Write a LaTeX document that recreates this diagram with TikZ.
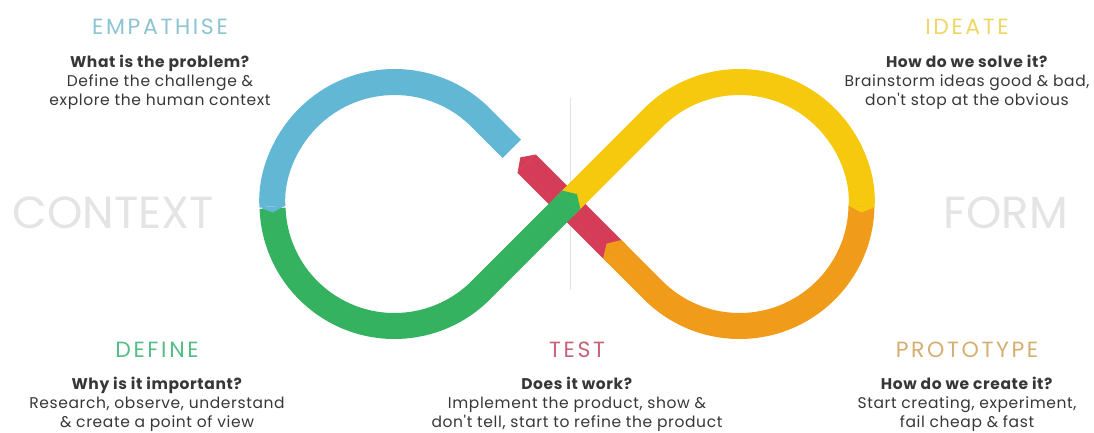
\documentclass[tikz,border=0pt]{standalone}
\usepackage{fontspec}
\setmainfont{Poppins}
\newfontfamily\stagefont{Poppins}[LetterSpace=12]
\newfontfamily\notefont{Poppins}[LetterSpace=4]
\usetikzlibrary{arrows.meta,positioning,calc}
\definecolor{bandblue}{RGB}{98,184,212}
\definecolor{bandgreen}{RGB}{52,178,96}
\definecolor{bandyellow}{RGB}{246,201,14}
\definecolor{bandorange}{RGB}{240,156,26}
\definecolor{bandred}{RGB}{212,60,88}
\definecolor{titleblue}{RGB}{140,196,210}
\definecolor{titlegreen}{RGB}{84,190,134}
\definecolor{titleyellow}{RGB}{240,214,100}
\definecolor{titlered}{RGB}{198,98,122}
\definecolor{titleorange}{RGB}{214,174,112}
\definecolor{sidegray}{RGB}{228,228,228}
\definecolor{bodygray}{RGB}{55,55,55}

\begin{document}
\begin{tikzpicture}[x=1pt, y=1pt,
  band/.style={line width=26pt},
  tip/.style={-{Triangle[length=#1, width=26pt, line width=0pt]}},
  title/.style={inner sep=0pt, font=\stagefont\fontsize{22}{22}\selectfont},
  body/.style={inner sep=0pt, align=center, text=bodygray, font=\notefont\fontsize{15.5}{19}\selectfont},
  side/.style={inner sep=0pt, text=sidegray, font=\fontsize{45}{45}\selectfont}
]
\path[use as bounding box, fill=white] (0,0) rectangle (1094,432);

\coordinate (X) at (567,228);
\coordinate (L) at (394.5,228);
\coordinate (R) at (739.5,228);
\coordinate (axtop) at (570,334);
\coordinate (axbot) at (570,142);

\draw[gray!22, line width=0.8pt] (axtop) -- (axbot);

% the loop, back to front
\draw[band, bandred, tip=9pt] ($(X)+(-45:70pt)$) -- ($(X)+(135:66pt)$);
\draw[band, bandorange, tip=8pt] ($(R)+(-1:122pt)$) arc[start angle=-1, end angle=-135, radius=122pt] -- ($(X)+(-45:56pt)$);
\draw[band, bandyellow, tip=6pt] ($(X)+(225:4pt)$) -- ($(R)+(135:122pt)$) arc[start angle=135, end angle=-4, radius=122pt];
\draw[band, bandgreen, tip=8pt] ($(L)+(182:122pt)$) arc[start angle=182, end angle=315, radius=122pt] -- ($(X)+(45:14pt)$);
\draw[band, bandblue, tip=6pt] ($(X)+(135:78pt)$) -- ($(L)+(45:122pt)$) arc[start angle=45, end angle=184, radius=122pt];

\node[side] (context) at (113,219) {CONTEXT};
\node[side] (form) at (1006,219) {FORM};

\node[title, text=titleblue] (empT) at (160,405) {EMPATHISE};
\node[body, below=20pt of empT] (empB) {\textbf{What is the problem?}\\Define the challenge \&\\explore the human context};

\node[title, text=titleyellow] (ideT) at (967,405) {IDEATE};
\node[body, below=20pt of ideT] (ideB) {\textbf{How do we solve it?}\\Brainstorm ideas good \& bad,\\don't stop at the obvious};

\node[title, text=titlegreen] (defT) at (157,82) {DEFINE};
\node[body, below=19pt of defT] (defB) {\textbf{Why is it important?}\\Research, observe, understand\\\& create a point of view};

\node[title, text=titlered] (tesT) at (577,82) {TEST};
\node[body, below=19pt of tesT] (tesB) {\textbf{Does it work?}\\Implement the product, show \&\\don't tell, start to refine the product};

\node[title, text=titleorange] (proT) at (967,82) {PROTOTYPE};
\node[body, below=19pt of proT] (proB) {\textbf{How do we create it?}\\Start creating, experiment,\\fail cheap \& fast};
\end{tikzpicture}
\end{document}
